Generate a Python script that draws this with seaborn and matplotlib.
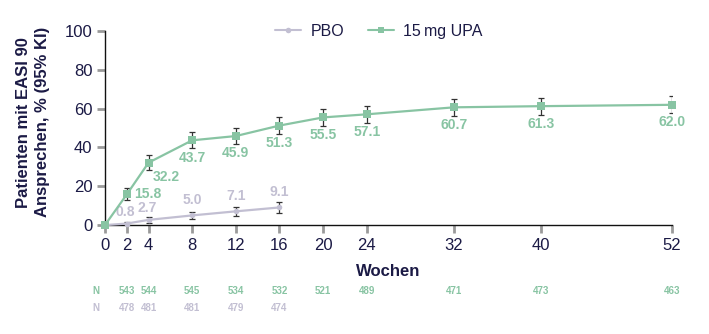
import matplotlib
matplotlib.use("Agg")
import matplotlib.pyplot as plt
import seaborn as sns
import pandas as pd

weeks_upa = [0, 2, 4, 8, 12, 16, 20, 24, 32, 40, 52]
upa = [0, 15.8, 32.2, 43.7, 45.9, 51.3, 55.5, 57.1, 60.7, 61.3, 62.0]
upa_lo = [0, 12.7, 28.3, 39.5, 41.7, 47.1, 51.3, 52.8, 56.3, 56.9, 57.6]
upa_hi = [0, 18.9, 36.1, 47.9, 50.1, 55.5, 59.7, 61.4, 65.1, 65.7, 66.4]

weeks_pbo = [0, 2, 4, 8, 12, 16]
pbo = [0, 0.8, 2.7, 5.0, 7.1, 9.1]
pbo_lo = [0, 0.0, 1.3, 3.1, 4.8, 6.5]
pbo_hi = [0, 1.6, 4.1, 6.9, 9.4, 11.7]

n_weeks_upa = [2, 4, 8, 12, 16, 20, 24, 32, 40, 52]
n_upa = ["543", "544", "545", "534", "532", "521", "489", "471", "473", "463"]
n_weeks_pbo = [2, 4, 8, 12, 16]
n_pbo = ["478", "481", "481", "479", "474"]

xticks = [0, 2, 4, 8, 12, 16, 20, 24, 32, 40, 52]
yticks = [0, 20, 40, 60, 80, 100]

GREEN = "#88c4a3"
GRAY = "#c2bfd2"
NAVY = "#1b1a45"
TICK = "#9a9a9a"

sns.set_style("white")
plt.rcParams["font.family"] = ["Liberation Sans", "DejaVu Sans"]

fig = plt.figure(figsize=(7.09, 3.34), dpi=100)
ax = fig.add_axes([0.148, 0.326, 0.800, 0.581])

df_pbo = pd.DataFrame({"Woche": weeks_pbo, "val": pbo})
df_upa = pd.DataFrame({"Woche": weeks_upa, "val": upa})

# error bars
ax.errorbar(weeks_pbo[1:], pbo[1:],
            yerr=[[p - l for p, l in zip(pbo[1:], pbo_lo[1:])],
                  [h - p for p, h in zip(pbo[1:], pbo_hi[1:])]],
            fmt="none", ecolor="#333333", elinewidth=0.9, capsize=2, capthick=0.9, zorder=3)
ax.errorbar(weeks_upa[1:], upa[1:],
            yerr=[[p - l for p, l in zip(upa[1:], upa_lo[1:])],
                  [h - p for p, h in zip(upa[1:], upa_hi[1:])]],
            fmt="none", ecolor="#333333", elinewidth=0.9, capsize=2, capthick=0.9, zorder=3)

sns.lineplot(data=df_pbo, x="Woche", y="val", color=GRAY, marker="o",
             markersize=4, markeredgewidth=0, linewidth=1.6, ax=ax,
             clip_on=False, zorder=4, label="PBO")
sns.lineplot(data=df_upa, x="Woche", y="val", color=GREEN, marker="s",
             markersize=5.5, markeredgewidth=0, linewidth=1.6, ax=ax,
             clip_on=False, zorder=4, label="15\u2009mg UPA")

ax.set_xlim(0, 52)
ax.set_ylim(0, 100)
ax.set_xticks(xticks)
ax.set_yticks(yticks)
ax.tick_params(axis="both", length=6, width=2, color=TICK, labelsize=12,
               labelcolor=NAVY, pad=3, direction="out")
ax.tick_params(axis="both", bottom=True, left=True)
for s in ["top", "right"]:
    ax.spines[s].set_visible(False)
for s in ["left", "bottom"]:
    ax.spines[s].set_color("#111111")
    ax.spines[s].set_linewidth(1)

ax.set_xlabel("Wochen", fontsize=12, fontweight="bold", color=NAVY, labelpad=8)
ax.set_ylabel("Patienten mit EASI 90\nAnsprechen, % (95% KI)", fontsize=12,
              fontweight="bold", color=NAVY, linespacing=1.35)
ax.yaxis.set_label_coords(-0.097, 0.53)

# data labels
upa_offsets = {2: (5, 0, "left"), 4: (3, -10, "left")}
for w, v in zip(weeks_upa[1:], upa[1:]):
    dx, dy, ha = upa_offsets.get(w, (0, -12.5, "center"))
    ax.annotate(f"{v:.1f}", (w, v), xytext=(dx, dy), textcoords="offset points",
                ha=ha, va="center", fontsize=10, fontweight="bold", color=GREEN)
pbo_offsets = {2: (-1, 8), 4: (-1, 8.5)}
for w, v in zip(weeks_pbo[1:], pbo[1:]):
    dx, dy = pbo_offsets.get(w, (0, 11))
    ax.annotate(f"{v:.1f}", (w, v), xytext=(dx, dy), textcoords="offset points",
                ha="center", va="center", fontsize=10, fontweight="bold", color=GRAY)

# N rows
trans = ax.get_xaxis_transform()
y1, y2 = -0.34, -0.425
ax.text(-0.8, y1, "N", transform=trans, ha="center", va="center", fontsize=7,
        fontweight="bold", color=GREEN, clip_on=False)
ax.text(-0.8, y2, "N", transform=trans, ha="center", va="center", fontsize=7,
        fontweight="bold", color=GRAY, clip_on=False)
for w, n in zip(n_weeks_upa, n_upa):
    ax.text(w, y1, n, transform=trans, ha="center", va="center", fontsize=7,
            fontweight="bold", color=GREEN, clip_on=False)
for w, n in zip(n_weeks_pbo, n_pbo):
    ax.text(w, y2, n, transform=trans, ha="center", va="center", fontsize=7,
            fontweight="bold", color=GRAY, clip_on=False)

leg = ax.legend(loc="center", bbox_to_anchor=(0.483, 1.0), ncol=2, frameon=False,
                fontsize=11.5, handlelength=1.6, columnspacing=1.5, handletextpad=0.6)
for t in leg.get_texts():
    t.set_color(NAVY)
for h in leg.legend_handles:
    h.set_markersize(4)
    h.set_linewidth(1.5)

fig.savefig("out.png", dpi=100)
